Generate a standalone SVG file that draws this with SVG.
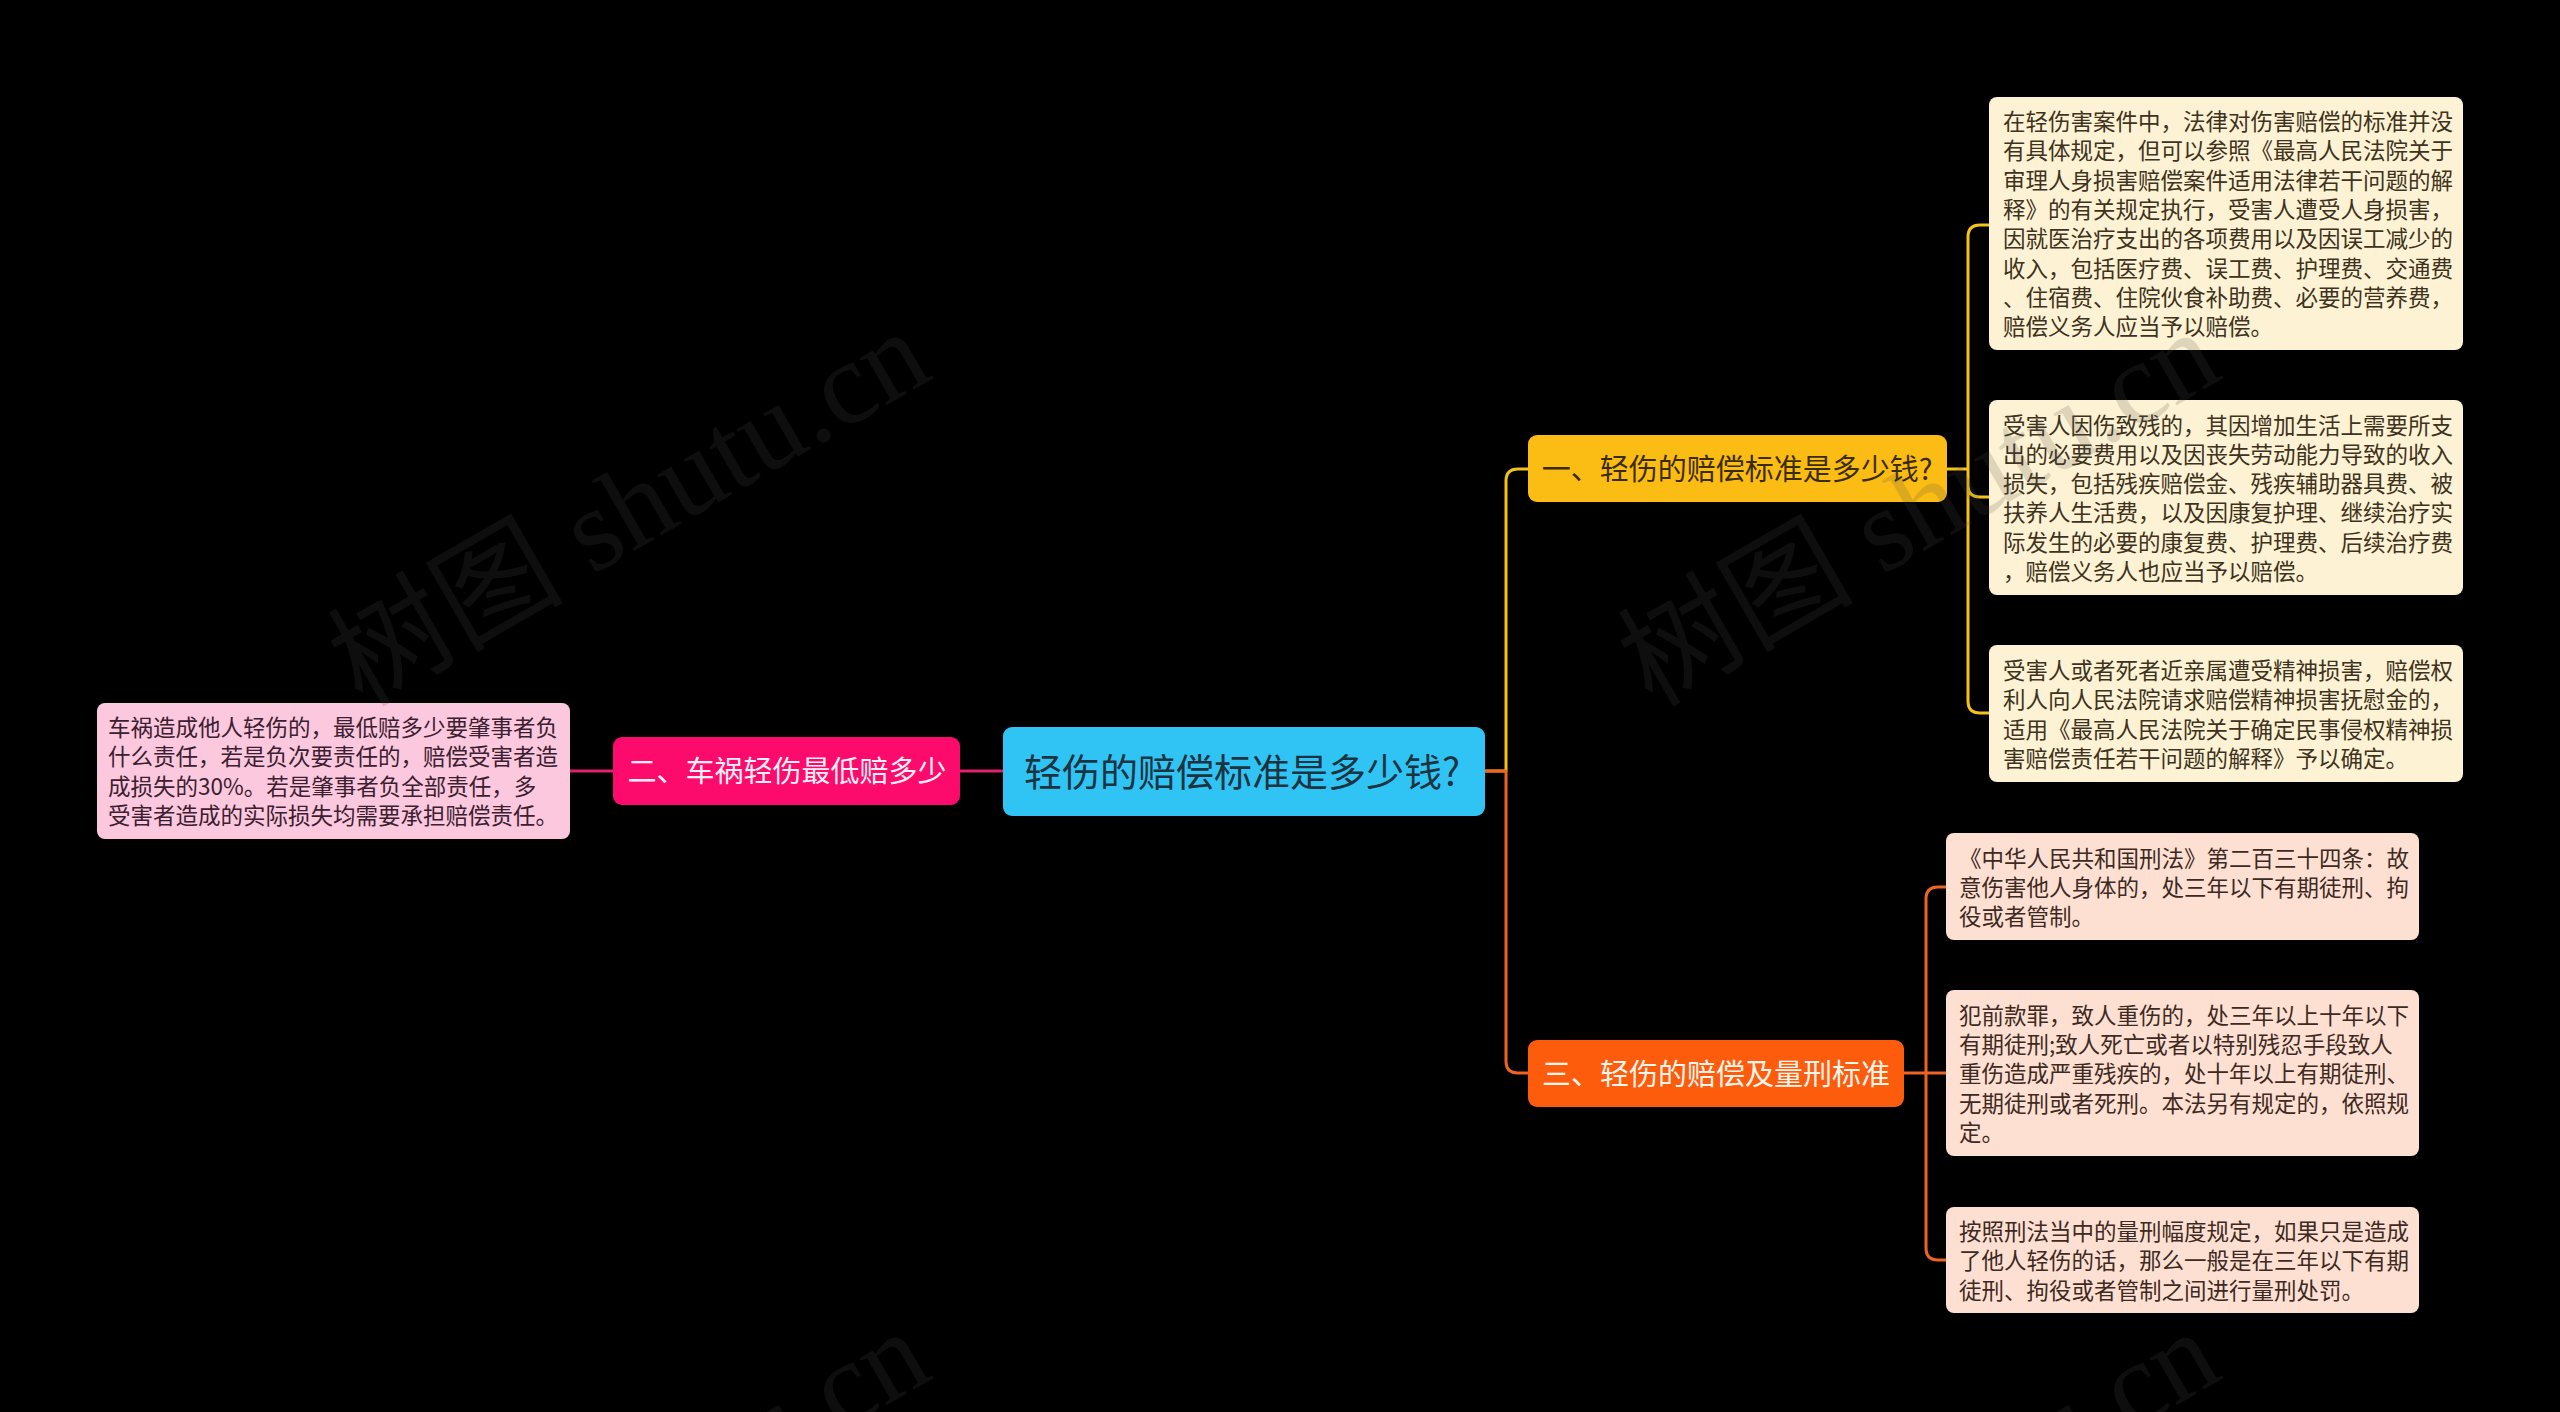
<svg xmlns="http://www.w3.org/2000/svg" width="2560" height="1412" viewBox="0 0 2560 1412">
<style>
.leaf{font-family:"Noto Sans CJK SC","Noto Sans",sans-serif;font-size:22.5px;}
.ly{fill:#fdf2d3;}
.lo{fill:#fde0d2;}
.lp{fill:#fcc8de;}
.ty{fill:#3d3320;}
.to{fill:#3d2a22;}
.tp{fill:#3a2030;}
.node{font-family:"Noto Sans CJK SC","Noto Sans",sans-serif;text-anchor:middle;}
.c{fill:none;stroke-width:3;stroke-linecap:round;stroke-linejoin:round;}
.wm{font-family:"Liberation Serif","Noto Sans CJK SC",serif;font-size:118px;fill:#505050;opacity:0.18;}
</style>
<rect x="0" y="0" width="2560" height="1412" fill="#000000"/>
<g id="connectors">
<path class="c" stroke="#e2206e" d="M570,771 H613 M960,771 H1003"/>
<path class="c" stroke="#f5c21a" d="M1485,771 H1506 V481 Q1506,469 1518,469 H1528"/>
<path class="c" stroke="#f06423" d="M1485,771 H1506 V1061 Q1506,1073 1518,1073 H1528"/>
<path class="c" stroke="#f5c21a" d="M1947,469 H1968 M1968,469 V237 Q1968,225 1980,225 H1989 M1968,469 V485 Q1968,497 1980,497 H1989 M1968,469 V701 Q1968,713 1980,713 H1989"/>
<path class="c" stroke="#f06423" d="M1904,1073 H1946 M1926,1073 V899 Q1926,887 1938,887 H1946 M1926,1073 V1248 Q1926,1260 1938,1260 H1946"/>
</g>
<g id="center">
<rect x="1003" y="727" width="482" height="89" rx="9" fill="#30c4f5"/>
<text class="node" x="1242" y="786" font-size="38" fill="#1d3340">轻伤的赔偿标准是多少钱?</text>
</g>
<g id="branch1">
<rect x="1528" y="435" width="419" height="67" rx="9" fill="#fbbc13"/>
<text class="node" x="1737" y="479.5" font-size="29" fill="#3b2c00">一、轻伤的赔偿标准是多少钱?</text>
</g>
<g id="branch2">
<rect x="613" y="737" width="347" height="68" rx="9" fill="#fc0a6c"/>
<text class="node" x="787" y="782" font-size="29" fill="#fff0f5">二、车祸轻伤最低赔多少</text>
</g>
<g id="branch3">
<rect x="1528" y="1040" width="376" height="67" rx="9" fill="#fc5c0c"/>
<text class="node" x="1716" y="1084.5" font-size="29" fill="#fff5ec">三、轻伤的赔偿及量刑标准</text>
</g>
<g id="leaf1">
<rect class="ly" x="1989" y="97" width="474" height="253" rx="8"/>
<text class="leaf ty" x="2003" y="130">
<tspan x="2003" y="130">在轻伤害案件中，法律对伤害赔偿的标准并没</tspan>
<tspan x="2003" y="159.3">有具体规定，但可以参照《最高人民法院关于</tspan>
<tspan x="2003" y="188.6">审理人身损害赔偿案件适用法律若干问题的解</tspan>
<tspan x="2003" y="217.9">释》的有关规定执行，受害人遭受人身损害，</tspan>
<tspan x="2003" y="247.2">因就医治疗支出的各项费用以及因误工减少的</tspan>
<tspan x="2003" y="276.5">收入，包括医疗费、误工费、护理费、交通费</tspan>
<tspan x="2003" y="305.8">、住宿费、住院伙食补助费、必要的营养费，</tspan>
<tspan x="2003" y="335.1">赔偿义务人应当予以赔偿。</tspan>
</text>
</g>
<g id="leaf2">
<rect class="ly" x="1989" y="400" width="474" height="195" rx="8"/>
<text class="leaf ty" x="2003" y="433.5">
<tspan x="2003" y="433.5">受害人因伤致残的，其因增加生活上需要所支</tspan>
<tspan x="2003" y="462.8">出的必要费用以及因丧失劳动能力导致的收入</tspan>
<tspan x="2003" y="492.1">损失，包括残疾赔偿金、残疾辅助器具费、被</tspan>
<tspan x="2003" y="521.4">扶养人生活费，以及因康复护理、继续治疗实</tspan>
<tspan x="2003" y="550.7">际发生的必要的康复费、护理费、后续治疗费</tspan>
<tspan x="2003" y="580">，赔偿义务人也应当予以赔偿。</tspan>
</text>
</g>
<g id="leaf3">
<rect class="ly" x="1989" y="645" width="474" height="137" rx="8"/>
<text class="leaf ty" x="2003" y="679">
<tspan x="2003" y="679">受害人或者死者近亲属遭受精神损害，赔偿权</tspan>
<tspan x="2003" y="708.3">利人向人民法院请求赔偿精神损害抚慰金的，</tspan>
<tspan x="2003" y="737.6">适用《最高人民法院关于确定民事侵权精神损</tspan>
<tspan x="2003" y="766.9">害赔偿责任若干问题的解释》予以确定。</tspan>
</text>
</g>
<g id="leaf4">
<rect class="lo" x="1946" y="833" width="473" height="107" rx="8"/>
<text class="leaf to" x="1959" y="866.5">
<tspan x="1959" y="866.5">《中华人民共和国刑法》第二百三十四条：故</tspan>
<tspan x="1959" y="895.8">意伤害他人身体的，处三年以下有期徒刑、拘</tspan>
<tspan x="1959" y="925.1">役或者管制。</tspan>
</text>
</g>
<g id="leaf5">
<rect class="lo" x="1946" y="990" width="473" height="166" rx="8"/>
<text class="leaf to" x="1959" y="1023.7">
<tspan x="1959" y="1023.7">犯前款罪，致人重伤的，处三年以上十年以下</tspan>
<tspan x="1959" y="1053">有期徒刑;致人死亡或者以特别残忍手段致人</tspan>
<tspan x="1959" y="1082.3">重伤造成严重残疾的，处十年以上有期徒刑、</tspan>
<tspan x="1959" y="1111.6">无期徒刑或者死刑。本法另有规定的，依照规</tspan>
<tspan x="1959" y="1140.9">定。</tspan>
</text>
</g>
<g id="leaf6">
<rect class="lo" x="1946" y="1207" width="473" height="106" rx="8"/>
<text class="leaf to" x="1959" y="1240">
<tspan x="1959" y="1240">按照刑法当中的量刑幅度规定，如果只是造成</tspan>
<tspan x="1959" y="1269.3">了他人轻伤的话，那么一般是在三年以下有期</tspan>
<tspan x="1959" y="1298.6">徒刑、拘役或者管制之间进行量刑处罚。</tspan>
</text>
</g>
<g id="leaf7">
<rect class="lp" x="97" y="703" width="473" height="136" rx="8"/>
<text class="leaf tp" x="108" y="736">
<tspan x="108" y="736">车祸造成他人轻伤的，最低赔多少要肇事者负</tspan>
<tspan x="108" y="765.3">什么责任，若是负次要责任的，赔偿受害者造</tspan>
<tspan x="108" y="794.6">成损失的30%。若是肇事者负全部责任，多</tspan>
<tspan x="108" y="823.9">受害者造成的实际损失均需要承担赔偿责任。</tspan>
</text>
</g>
<g id="watermarks">
<text class="wm" transform="translate(362,708) rotate(-30)">树图 shutu.cn</text>
<text class="wm" transform="translate(1652,708) rotate(-30)">树图 shutu.cn</text>
<text class="wm" transform="translate(362,1708) rotate(-30)">树图 shutu.cn</text>
<text class="wm" transform="translate(1652,1708) rotate(-30)">树图 shutu.cn</text>
</g>
</svg>
